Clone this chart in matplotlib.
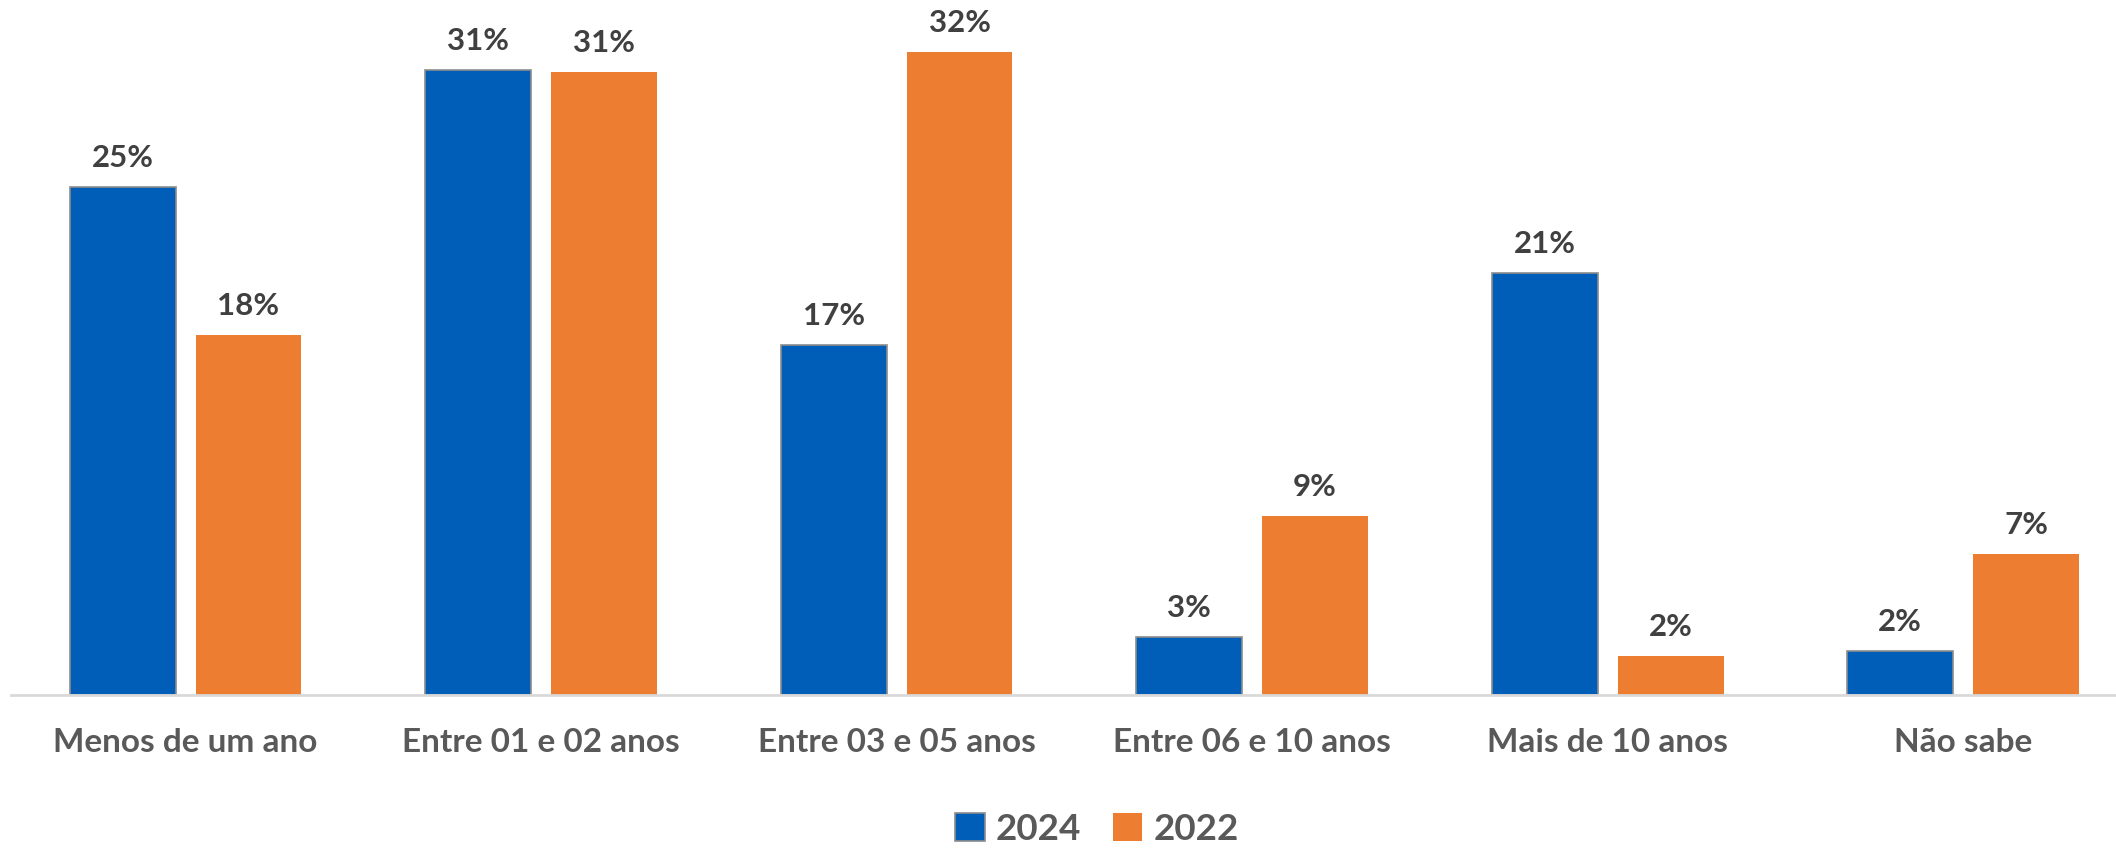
import numpy as np
import matplotlib
matplotlib.use("Agg")
import matplotlib.pyplot as plt
from matplotlib.patches import Patch

# ── Data ───────────────────────────────────────────────────────────────────
categories = ["Menos de um ano", "Entre 01 e 02 anos", "Entre 03 e 05 anos",
              "Entre 06 e 10 anos", "Mais de 10 anos", "Não sabe"]
vals_2024 = [25.3, 31.1, 17.4, 2.9, 21.0, 2.2]
vals_2022 = [17.9, 31.0, 32.0, 8.9, 1.95, 7.0]
series_names = ["2024", "2022"]

BLUE = "#005EB8"
ORANGE = "#ED7D31"
EDGE = "#8C8C8C"
LABEL_DARK = "#404040"
LABEL_GRAY = "#595959"

plt.rcParams["font.family"] = ["Lato", "DejaVu Sans"]

W, H = 2116, 848
fig = plt.figure(figsize=(W / 100, H / 100), dpi=100)
ax = fig.add_axes([11 / W, 1 - 695 / H, 1 - 11 / W, 695 / H])

x = np.arange(len(categories))
bw = 0.298
off = 0.177

b1 = ax.bar(x - off, vals_2024, bw, color=BLUE, edgecolor=EDGE, linewidth=1.2)
b2 = ax.bar(x + off, vals_2022, bw, color=ORANGE, edgecolor="none")

for bars, vals in ((b1, vals_2024), (b2, vals_2022)):
    for rect, v in zip(bars, vals):
        ax.annotate(f"{round(v)}%", (rect.get_x() + rect.get_width() / 2, v),
                    xytext=(0, 21), textcoords="offset points",
                    ha="center", va="center", fontsize=22.5, fontweight="bold",
                    color=LABEL_DARK)

ax.set_xlim(-0.491, 5.43)
ax.set_ylim(0, 34.6)

for s in ("top", "right", "left"):
    ax.spines[s].set_visible(False)
ax.spines["bottom"].set_color("#D9D9D9")
ax.spines["bottom"].set_linewidth(2)
ax.set_yticks([])
ax.set_xticks([])
for xi, c in zip(x, categories):
    ax.text(xi, -(743 - 695) / 695, c, transform=ax.get_xaxis_transform(),
            ha="center", va="center", fontsize=24, fontweight="bold",
            color=LABEL_GRAY)

handles = [Patch(facecolor=BLUE, edgecolor=EDGE, linewidth=1.2),
           Patch(facecolor=ORANGE, edgecolor="none")]
leg = fig.legend(handles, series_names, loc="center", ncol=2,
                 bbox_to_anchor=(1097 / W, 1 - 829 / H), frameon=False,
                 handlelength=0.8, handleheight=0.8, handletextpad=0.3,
                 columnspacing=0.85, prop={"size": 26.5, "weight": "bold"})
for t in leg.get_texts():
    t.set_color(LABEL_GRAY)

fig.savefig("out.png", dpi=100)
